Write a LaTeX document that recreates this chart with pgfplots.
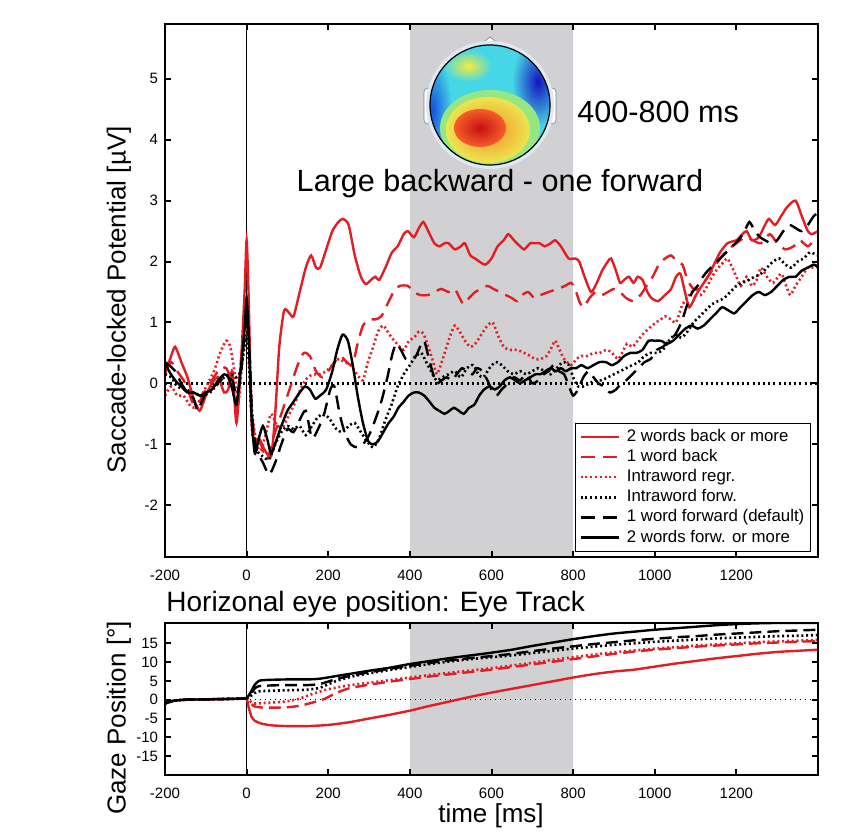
\documentclass[border=0pt]{standalone}
\usepackage{fontspec}
\setmainfont{Liberation Sans}
\usepackage{pgfplots}
\pgfplotsset{compat=1.18}
\definecolor{eegred}{RGB}{226,30,36}
\definecolor{band}{RGB}{209,208,210}
\definecolor{mapbase}{RGB}{70,215,230}
\definecolor{mapblue}{RGB}{20,80,220}
\definecolor{mapdeep}{RGB}{20,20,190}
\definecolor{mapyel}{RGB}{245,235,60}
\definecolor{mapgreen}{RGB}{150,230,130}
\definecolor{maporange}{RGB}{248,140,40}
\definecolor{mapyel2}{RGB}{235,230,80}
\definecolor{mapred}{RGB}{200,15,20}
\definecolor{mapred2}{RGB}{245,95,40}
\definecolor{mapring}{RGB}{222,232,242}

\pgfplotsset{
  eeg/.style={
    scale only axis, width=326.5pt, anchor=south west,
    xmin=-200, xmax=1400, xtick={-200,0,...,1200},
    axis line style={line width=1.2pt},
    tick style={black, line width=1pt}, major tick length=3pt, tick align=inside,
    ticklabel style={font=\fontsize{7.5}{8}\selectfont},
    xticklabel style={yshift=-3pt},
    /pgf/number format/assume math mode=true,
    /pgf/number format/1000 sep={},
    axis on top,
  },
  rs/.style={eegred, line width=1.2pt, smooth, tension=0.4},
  rd/.style={eegred, line width=1.2pt, dash pattern=on 7pt off 4pt, smooth, tension=0.4},
  rt/.style={eegred, line width=1.3pt, dash pattern=on 1pt off 1.4pt, smooth, tension=0.4},
  kt/.style={black, line width=1.3pt, dash pattern=on 1pt off 1.4pt, smooth, tension=0.4},
  kd/.style={black, line width=1.2pt, dash pattern=on 7pt off 4pt, smooth, tension=0.4},
  ks/.style={black, line width=1.2pt, smooth, tension=0.4},
}

\begin{document}
\begin{tikzpicture}
\useasboundingbox (0,0) rectangle (431.5pt,416.5pt);

% upper panel: ERP
\begin{axis}[eeg, at={(82.5pt,138pt)}, height=266.5pt,
  ymin=-2.85, ymax=5.9, ytick={-2,-1,...,5},
  legend style={at={(0.989,0.01)}, anchor=south east, draw=black, line width=0.5pt,
    font=\fontsize{8.4}{9}\selectfont, row sep=0.5pt, inner xsep=2pt, inner ysep=2pt,
    nodes={inner sep=1pt}, cells={anchor=west}},
  legend image code/.code={\draw[#1] (0pt,0pt) -- (19pt,0pt); \path (21.5pt,0pt);},
]
\fill[band] (axis cs:400,-2.85) rectangle (axis cs:800,5.9);
\draw[black, line width=0.5pt] (axis cs:0,-2.85) -- (axis cs:0,5.9);
\draw[black, line width=1.2pt, dash pattern=on 1pt off 1.6pt] (axis cs:-200,0) -- (axis cs:1400,0);

\addplot[rs] coordinates {(-200,0.15)(-185,0.45)(-175,0.6)(-160,0.35)(-145,0.1)(-130,-0.25)(-115,-0.45)(-100,-0.2)(-85,0.0)(-70,0.1)(-55,-0.15)(-45,-0.1)(-35,0.2)(-25,-0.65)(-15,0.2)(-5,1.5)(0,2.35)(5,1.4)(12,-0.6)(20,-1.0)(30,-0.9)(45,-1.1)(60,-1.2)(70,-0.5)(80,0.6)(92,1.2)(105,1.15)(115,1.1)(130,1.5)(145,1.9)(158,2.1)(170,1.9)(180,1.9)(195,2.2)(210,2.5)(225,2.65)(236,2.7)(250,2.6)(265,2.1)(280,1.75)(292,1.63)(305,1.7)(315,1.75)(325,1.7)(340,1.9)(356,2.15)(370,2.25)(385,2.45)(395,2.5)(410,2.4)(422,2.55)(433,2.65)(445,2.5)(460,2.3)(472,2.25)(485,2.3)(495,2.3)(510,2.2)(525,2.25)(535,2.3)(548,2.1)(560,2.05)(570,2.0)(585,1.95)(600,2.05)(615,2.25)(630,2.35)(641,2.45)(655,2.35)(670,2.25)(680,2.2)(695,2.3)(705,2.3)(718,2.3)(730,2.25)(745,2.3)(756,2.35)(770,2.25)(789,2.05)(805,2.05)(815,2.0)(828,1.75)(844,1.5)(858,1.65)(871,1.85)(885,2.0)(893,2.05)(905,1.85)(915,1.65)(925,1.7)(937,1.75)(948,1.65)(958,1.75)(970,1.7)(982,1.5)(992,1.4)(1008,1.35)(1025,1.45)(1040,1.55)(1052,1.75)(1063,1.8)(1074,1.5)(1085,1.25)(1101,1.45)(1115,1.6)(1130,1.75)(1145,1.95)(1160,2.15)(1178,2.3)(1200,2.35)(1215,2.45)(1225,2.5)(1238,2.35)(1255,2.4)(1270,2.6)(1280,2.7)(1295,2.6)(1310,2.75)(1325,2.9)(1345,3.0)(1360,2.75)(1375,2.5)(1385,2.45)(1400,2.5)};
\addlegendentry{2 words back or more}
\addplot[rd] coordinates {(-200,0.2)(-185,0.35)(-170,0.2)(-150,0.0)(-130,-0.35)(-115,-0.3)(-100,-0.1)(-80,0.1)(-65,0.25)(-50,0.25)(-35,0.0)(-25,-0.4)(-15,0.3)(-5,1.0)(0,1.3)(5,0.7)(12,-0.5)(22,-0.9)(35,-1.0)(50,-1.25)(65,-0.9)(80,-0.6)(95,-0.3)(110,0.0)(125,0.3)(140,0.5)(155,0.45)(170,0.2)(185,0.1)(200,0.2)(215,0.35)(230,0.45)(245,0.35)(260,0.3)(270,0.6)(285,0.95)(300,1.05)(315,1.05)(330,1.1)(345,1.3)(360,1.5)(375,1.6)(395,1.6)(410,1.5)(425,1.45)(445,1.45)(460,1.5)(477,1.55)(495,1.5)(510,1.55)(522,1.4)(532,1.3)(545,1.4)(560,1.5)(575,1.55)(590,1.6)(605,1.55)(620,1.5)(635,1.45)(650,1.4)(663,1.35)(675,1.45)(690,1.5)(705,1.4)(720,1.45)(740,1.5)(762,1.55)(780,1.6)(795,1.65)(805,1.55)(815,1.35)(825,1.25)(840,1.4)(855,1.5)(870,1.45)(885,1.5)(900,1.55)(915,1.5)(930,1.4)(948,1.35)(965,1.45)(980,1.6)(995,1.75)(1010,1.95)(1025,2.05)(1040,2.1)(1055,2.0)(1068,1.95)(1080,1.7)(1095,1.55)(1110,1.55)(1125,1.7)(1140,1.85)(1160,2.05)(1180,2.2)(1200,2.3)(1222,2.4)(1240,2.35)(1260,2.3)(1282,2.45)(1300,2.3)(1320,2.2)(1340,2.25)(1355,2.35)(1375,2.25)(1390,2.35)(1400,2.4)};
\addlegendentry{1 word back}
\addplot[rt] coordinates {(-200,-0.2)(-185,-0.05)(-170,-0.2)(-155,-0.2)(-140,-0.35)(-125,-0.4)(-110,-0.2)(-95,0.0)(-80,0.2)(-65,0.5)(-50,0.7)(-40,0.6)(-30,0.2)(-20,-0.3)(-10,0.4)(0,1.0)(6,0.6)(14,-0.5)(25,-1.0)(35,-1.1)(48,-0.8)(60,-0.5)(75,-0.7)(90,-0.7)(105,-0.5)(120,-0.3)(135,-0.05)(150,0.1)(165,0.15)(180,0.15)(195,0.2)(210,0.3)(225,0.4)(240,0.35)(255,0.3)(270,0.15)(285,0.05)(295,0.3)(310,0.6)(322,0.85)(335,0.95)(350,0.8)(362,0.7)(375,0.6)(385,0.55)(398,0.7)(410,0.75)(422,0.85)(433,0.82)(445,0.6)(455,0.4)(466,0.15)(478,0.35)(490,0.6)(500,0.8)(510,0.95)(522,0.85)(535,0.7)(548,0.6)(560,0.65)(575,0.8)(590,0.95)(603,1.0)(615,0.8)(630,0.6)(645,0.55)(663,0.55)(680,0.5)(695,0.45)(707,0.4)(720,0.4)(735,0.45)(748,0.6)(756,0.7)(767,0.55)(778,0.4)(795,0.3)(808,0.4)(820,0.45)(835,0.45)(850,0.5)(865,0.5)(882,0.55)(895,0.5)(910,0.4)(920,0.5)(932,0.65)(945,0.6)(958,0.7)(970,0.8)(985,0.9)(1003,1.0)(1015,1.05)(1025,1.1)(1040,1.05)(1052,1.0)(1068,1.3)(1080,1.4)(1090,1.5)(1100,1.45)(1112,1.45)(1125,1.55)(1140,1.75)(1156,1.9)(1170,2.0)(1178,2.05)(1190,1.9)(1200,1.75)(1211,1.6)(1225,1.75)(1238,1.6)(1250,1.7)(1260,1.9)(1275,1.75)(1290,1.65)(1310,1.8)(1322,1.6)(1332,1.45)(1345,1.6)(1360,1.75)(1375,1.9)(1390,1.9)(1400,1.95)};
\addlegendentry{Intraword regr.}
\addplot[kt] coordinates {(-200,0.15)(-185,0.1)(-170,-0.05)(-150,-0.1)(-130,-0.15)(-110,-0.2)(-90,-0.15)(-70,0.0)(-55,0.1)(-40,0.15)(-25,0.1)(-15,0.2)(-5,0.6)(0,0.75)(6,0.3)(14,-0.8)(25,-1.1)(40,-1.2)(55,-1.25)(70,-1.0)(85,-0.8)(100,-0.7)(115,-0.75)(130,-0.7)(145,-0.85)(160,-0.7)(175,-0.55)(190,-0.5)(205,-0.6)(220,-0.75)(235,-0.8)(250,-0.7)(265,-0.65)(280,-0.8)(295,-0.95)(310,-1.05)(325,-0.9)(340,-0.6)(355,-0.35)(370,-0.05)(385,0.15)(400,0.3)(415,0.45)(428,0.5)(440,0.35)(452,0.2)(465,0.05)(480,0.1)(495,0.15)(510,0.2)(525,0.1)(540,0.25)(555,0.3)(568,0.15)(580,0.1)(595,0.25)(610,0.35)(625,0.3)(640,0.2)(655,0.15)(670,0.2)(685,0.15)(700,0.2)(715,0.25)(730,0.2)(745,0.15)(760,0.25)(775,0.35)(790,0.3)(800,0.1)(812,-0.05)(825,-0.05)(840,0.0)(855,0.05)(870,0.05)(885,0.1)(900,0.15)(915,0.2)(930,0.25)(945,0.3)(960,0.35)(975,0.45)(990,0.5)(1005,0.5)(1020,0.55)(1035,0.7)(1050,0.8)(1065,0.75)(1080,0.85)(1095,1.0)(1110,1.1)(1125,1.2)(1140,1.3)(1155,1.35)(1170,1.4)(1185,1.5)(1200,1.6)(1215,1.65)(1230,1.7)(1245,1.75)(1260,1.8)(1275,1.9)(1290,2.0)(1305,2.05)(1320,1.95)(1335,1.9)(1350,2.0)(1365,2.05)(1380,2.15)(1400,2.1)};
\addlegendentry{Intraword forw.}
\addplot[kd] coordinates {(-200,0.35)(-190,0.3)(-175,0.2)(-160,0.0)(-145,-0.15)(-130,-0.25)(-120,-0.45)(-110,-0.3)(-95,-0.1)(-80,-0.05)(-65,0.05)(-50,0.1)(-35,0.05)(-25,-0.2)(-15,0.1)(-5,0.8)(0,1.1)(6,0.7)(14,-0.6)(25,-1.1)(40,-1.3)(55,-1.5)(70,-1.3)(85,-1.0)(100,-0.75)(115,-0.8)(130,-0.6)(145,-0.45)(160,-0.9)(175,-0.75)(190,-0.5)(205,-0.1)(215,-0.05)(228,-0.5)(240,-0.8)(255,-1.0)(270,-1.05)(285,-1.0)(300,-0.85)(315,-0.6)(330,-0.3)(345,0.1)(356,0.45)(366,0.65)(378,0.55)(390,0.4)(403,0.4)(415,0.45)(425,0.6)(435,0.7)(445,0.45)(455,0.2)(465,0.0)(478,0.05)(490,0.1)(503,0.05)(515,0.15)(528,0.25)(540,0.2)(553,0.15)(565,0.25)(578,0.2)(590,0.05)(600,-0.1)(612,-0.2)(625,-0.1)(640,0.0)(655,0.1)(670,0.05)(685,0.15)(700,0.0)(715,0.05)(728,0.15)(740,0.2)(752,0.3)(765,0.2)(778,0.15)(790,-0.05)(800,-0.2)(812,-0.1)(825,0.1)(838,0.2)(850,0.1)(862,0.0)(875,-0.05)(890,-0.15)(905,-0.1)(918,0.0)(930,0.05)(945,0.15)(960,0.25)(975,0.35)(990,0.4)(1005,0.55)(1020,0.6)(1035,0.7)(1050,0.8)(1065,1.0)(1080,1.3)(1092,1.5)(1105,1.6)(1118,1.75)(1130,1.85)(1145,1.95)(1160,2.05)(1175,2.15)(1190,2.25)(1205,2.35)(1220,2.5)(1232,2.65)(1245,2.5)(1258,2.4)(1270,2.35)(1285,2.3)(1300,2.35)(1315,2.5)(1330,2.6)(1345,2.55)(1360,2.5)(1375,2.6)(1390,2.75)(1400,2.8)};
\addlegendentry{1 word forward (default)}
\addplot[ks] coordinates {(-200,0.35)(-190,0.2)(-175,0.05)(-160,-0.05)(-145,-0.15)(-130,-0.15)(-115,-0.2)(-100,-0.15)(-85,-0.1)(-70,0.05)(-55,0.15)(-45,0.1)(-35,-0.1)(-25,-0.35)(-15,0.2)(-5,0.9)(0,1.4)(5,0.8)(12,-0.5)(20,-1.15)(30,-0.9)(40,-0.7)(50,-0.9)(60,-1.15)(72,-0.95)(85,-0.7)(100,-0.45)(115,-0.3)(130,-0.15)(143,-0.05)(155,-0.1)(168,-0.25)(180,-0.2)(195,-0.1)(210,0.2)(222,0.55)(235,0.8)(248,0.7)(260,0.3)(272,-0.2)(285,-0.65)(298,-0.95)(310,-1.0)(322,-0.95)(335,-0.8)(348,-0.65)(360,-0.55)(372,-0.4)(385,-0.3)(397,-0.2)(410,-0.15)(422,-0.15)(435,-0.2)(448,-0.3)(460,-0.4)(472,-0.45)(485,-0.5)(497,-0.45)(508,-0.4)(520,-0.45)(532,-0.5)(545,-0.4)(558,-0.35)(570,-0.2)(582,-0.1)(595,-0.05)(608,-0.1)(620,-0.05)(632,0.05)(645,0.1)(658,0.05)(670,0.0)(682,0.05)(695,0.1)(708,0.15)(720,0.15)(732,0.2)(745,0.25)(758,0.2)(770,0.25)(782,0.2)(795,0.25)(808,0.25)(820,0.3)(835,0.25)(850,0.3)(865,0.35)(880,0.35)(895,0.3)(910,0.35)(925,0.45)(940,0.5)(955,0.5)(970,0.55)(985,0.7)(1000,0.7)(1015,0.7)(1030,0.65)(1045,0.7)(1060,0.8)(1075,0.9)(1090,0.95)(1105,0.9)(1120,0.95)(1135,1.05)(1150,1.15)(1165,1.25)(1180,1.2)(1195,1.15)(1210,1.25)(1225,1.35)(1240,1.45)(1255,1.5)(1270,1.45)(1285,1.5)(1300,1.6)(1315,1.7)(1330,1.75)(1345,1.75)(1360,1.85)(1375,1.9)(1390,1.95)(1400,1.9)};
\addlegendentry{2 words forw. or more}
\end{axis}

% lower panel: eye track
\begin{axis}[eeg, at={(82.5pt,29pt)}, height=76pt,
  ymin=-20, ymax=20.4, ytick={-15,-10,...,15},
]
\fill[band] (axis cs:400,-20) rectangle (axis cs:800,20.4);
\draw[black, line width=0.5pt] (axis cs:0,-20) -- (axis cs:0,20.4);
\draw[black, line width=0.5pt, dotted] (axis cs:-200,0) -- (axis cs:1400,0);

\addplot[rs] coordinates {(-200,-1.0)(-180,-0.3)(-150,0)(-100,0.1)(-50,0.2)(-10,0.3)(0,0.4)(5,-2)(12,-4.5)(20,-5.6)(35,-6.3)(60,-6.8)(100,-7.0)(150,-7.0)(200,-6.7)(250,-6.0)(300,-5.0)(350,-4.0)(400,-2.9)(450,-1.6)(500,-0.4)(550,0.8)(600,1.9)(650,2.9)(700,3.9)(750,4.9)(800,5.9)(850,6.8)(900,7.5)(950,8.0)(1000,8.8)(1050,9.6)(1100,10.3)(1150,11.0)(1200,11.6)(1250,12.2)(1300,12.7)(1350,13.0)(1400,13.3)};
\addplot[rd, dash pattern=on 6pt off 3pt] coordinates {(-200,-1.0)(-180,-0.3)(-150,0)(-100,0.1)(-50,0.2)(-10,0.3)(0,0.4)(10,-1.0)(20,-1.8)(40,-2.1)(70,-2.1)(100,-2.0)(130,-1.6)(160,-0.8)(190,0.2)(220,1.8)(250,3.0)(300,4.0)(350,4.8)(400,5.5)(450,6.2)(500,6.8)(550,7.4)(600,8.0)(650,8.7)(700,9.4)(750,10.1)(800,10.8)(850,11.5)(900,12.2)(950,12.8)(1000,13.3)(1050,13.7)(1100,14.1)(1150,14.4)(1200,14.7)(1250,15.0)(1300,15.2)(1350,15.4)(1400,15.6)};
\addplot[rt] coordinates {(-200,-1.0)(-180,-0.3)(-150,0)(-100,0.1)(-50,0.2)(-10,0.3)(0,0.4)(10,-0.5)(20,-1.0)(40,-0.9)(70,-0.7)(100,-0.4)(130,0.3)(160,1.5)(200,2.8)(250,3.8)(300,4.5)(350,5.2)(400,5.9)(450,6.6)(500,7.2)(550,7.8)(600,8.4)(650,9.1)(700,9.8)(750,10.6)(800,11.3)(850,12.0)(900,12.6)(950,13.1)(1000,13.6)(1050,14.0)(1100,14.4)(1150,14.7)(1200,15.0)(1250,15.3)(1300,15.5)(1350,15.7)(1400,15.9)};
\addplot[kt] coordinates {(-200,-1.0)(-180,-0.3)(-150,0)(-100,0.1)(-50,0.2)(-10,0.3)(0,0.4)(10,1.0)(20,1.8)(30,2.2)(60,2.4)(100,2.5)(150,2.7)(180,3.2)(220,5.0)(260,6.2)(300,7.0)(350,7.9)(400,8.7)(450,9.5)(500,10.2)(550,10.8)(600,11.3)(650,11.8)(700,12.4)(750,13.0)(800,13.6)(850,14.1)(900,14.6)(950,15.0)(1000,15.4)(1050,15.7)(1100,16.0)(1150,16.3)(1200,16.5)(1250,16.7)(1300,16.9)(1350,17.0)(1400,17.2)};
\addplot[kd, dash pattern=on 6pt off 3pt] coordinates {(-200,-1.0)(-180,-0.3)(-150,0)(-100,0.1)(-50,0.2)(-10,0.3)(0,0.4)(10,1.5)(20,3.0)(30,3.6)(60,3.8)(100,3.9)(150,3.9)(180,4.2)(220,5.5)(260,6.5)(300,7.3)(350,8.2)(400,9.0)(450,9.8)(500,10.5)(550,11.1)(600,11.6)(650,12.2)(700,12.9)(750,13.6)(800,14.2)(850,14.8)(900,15.3)(950,15.8)(1000,16.2)(1050,16.6)(1100,16.9)(1150,17.3)(1200,17.6)(1250,17.9)(1300,18.2)(1350,18.4)(1400,18.6)};
\addplot[ks] coordinates {(-200,-1.0)(-180,-0.3)(-150,0)(-100,0.1)(-50,0.2)(-10,0.3)(0,0.4)(10,2)(20,4)(30,5.0)(40,5.2)(60,5.3)(100,5.4)(150,5.4)(180,5.6)(220,6.3)(260,7.0)(300,7.7)(350,8.5)(400,9.5)(450,10.3)(500,11.1)(550,11.8)(600,12.5)(650,13.3)(700,14.3)(750,15.2)(800,16.1)(850,16.9)(900,17.6)(950,18.1)(1000,18.6)(1050,19.0)(1100,19.4)(1150,19.8)(1200,20.1)(1250,20.3)(1300,20.4)(1400,20.4)};
\end{axis}

% labels, annotations and the scalp map (pixel grid of the reference, y downwards)
\begin{scope}[x=0.5pt, y=-0.5pt, shift={(0pt,416.5pt)}]
  \node[rotate=90, font=\fontsize{13}{15}\selectfont] at (119,300) {Saccade-locked Potential [µV]};
  \node[rotate=90, font=\fontsize{13}{15}\selectfont] at (119,718) {Gaze Position [°]};
  \node[anchor=base, inner sep=0pt, font=\fontsize{13}{15}\selectfont] at (491,823) {time [ms]};
  \node[anchor=base west, inner sep=0pt, font=\fontsize{14}{16}\selectfont] at (166,612) {Horizonal eye position: Eye Track};
  \node[anchor=base, inner sep=0pt, font=\fontsize{15.3}{17}\selectfont] at (500,192) {Large backward - one forward};
  \node[anchor=west, inner sep=0pt, font=\fontsize{15.3}{17}\selectfont] at (577,112) {400-800 ms};

  % scalp map
  \draw[gray, line width=0.3pt, fill=white] (479,46) -- (490,37) -- (501,46) -- cycle;
  \draw[gray, line width=0.3pt, fill=white, rounded corners=2pt] (432,88) rectangle (424,124);
  \draw[gray, line width=0.3pt, fill=white, rounded corners=2pt] (548,88) rectangle (556,124);
  \fill[mapring] (490,105) circle[radius=64];
  \begin{scope}
    \clip (490,105) circle[radius=60];
    \fill[mapbase] (490,105) circle[radius=60];
    \shade[inner color=mapblue, outer color=mapbase] (432,110) ellipse[x radius=20, y radius=55];
    \shade[inner color=mapdeep, outer color=mapbase] (538,82) ellipse[x radius=26, y radius=45];
    \shade[inner color=mapyel, outer color=mapbase] (468,66) ellipse[x radius=24, y radius=16];
    \fill[mapgreen] (490,128) ellipse[x radius=50, y radius=38];
    \shade[inner color=maporange, outer color=mapyel2] (488,130) ellipse[x radius=42, y radius=33];
    \shade[inner color=mapred, outer color=mapred2] (480,128) ellipse[x radius=26, y radius=19];
  \end{scope}
  \draw[black, line width=0.6pt] (490,105) circle[radius=60];
\end{scope}
\end{tikzpicture}
\end{document}
